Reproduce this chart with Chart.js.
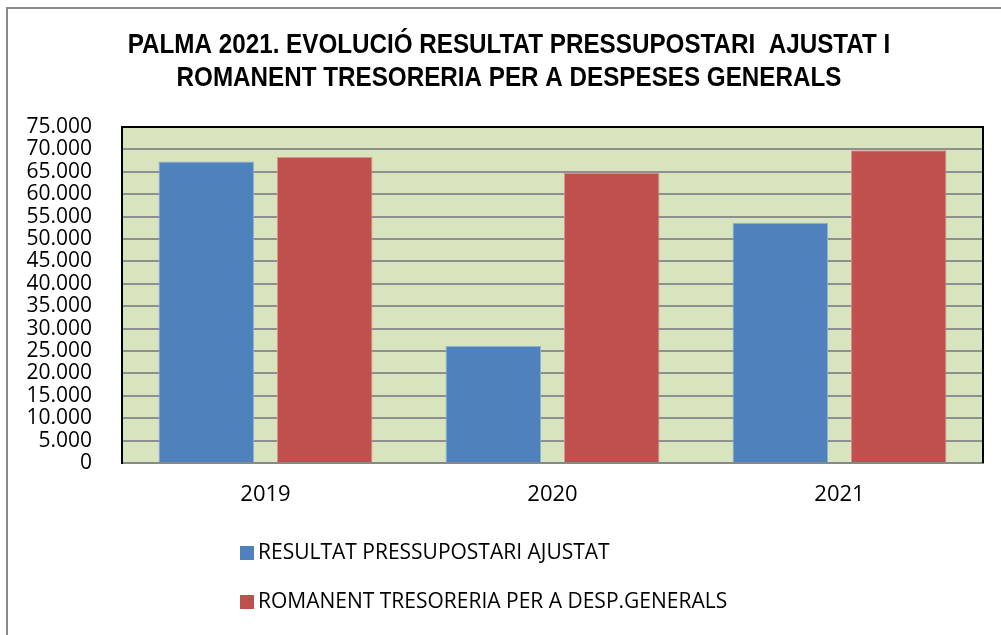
<!DOCTYPE html>
<html>
<head>
<meta charset="utf-8">
<script src="https://cdn.jsdelivr.net/npm/chart.js@4.4.1/dist/chart.umd.min.js"></script>
<style>
  html, body { margin: 0; padding: 0; background: #fff; }
  #wrap { width: 1001px; height: 635px; position: relative; }
</style>
</head>
<body>
<div id="wrap"><canvas id="chart"></canvas></div>
<script>
// data
const years = ['2019', '2020', '2021'];
const resultat = [67300, 26100, 53600];
const romanent = [68300, 64800, 69800];
const seriesNames = ['RESULTAT PRESSUPOSTARI AJUSTAT', 'ROMANENT TRESORERIA PER A DESP.GENERALS'];
const titleLines = ['PALMA 2021. EVOLUCIÓ RESULTAT PRESSUPOSTARI  AJUSTAT I', 'ROMANENT TRESORERIA PER A DESPESES GENERALS'];

const fmt = v => String(v).replace(/\B(?=(\d{3})+(?!\d))/g, '.');

// plot background, frame, narrow title and legend
const frame = {
    id: 'frame',
    beforeDraw(chart) {
        const ctx = chart.ctx, a = chart.chartArea;
        ctx.save();
        ctx.strokeStyle = '#8a8a8a';
        ctx.lineWidth = 2;
        ctx.strokeRect(7, 8, 1100, 800);
        ctx.fillStyle = '#D7E4BD';
        ctx.fillRect(a.left, a.top, a.right - a.left, a.bottom - a.top);
        ctx.restore();
    },
    afterDraw(chart) {
        const ctx = chart.ctx, a = chart.chartArea;
        ctx.save();
        ctx.strokeStyle = '#000';
        ctx.lineWidth = 2;
        ctx.beginPath();
        ctx.moveTo(a.left, a.top);
        ctx.lineTo(a.right, a.top);
        ctx.lineTo(a.right, a.bottom);
        ctx.stroke();

        // title, squeezed to look like a narrow face
        ctx.save();
        ctx.translate(509, 0);
        ctx.scale(0.865, 1);
        ctx.font = 'bold 28px "Liberation Sans", sans-serif';
        ctx.textAlign = 'center';
        ctx.textBaseline = 'middle';
        ctx.fillStyle = '#000';
        titleLines.forEach((t, i) => ctx.fillText(t, 0, 45 + i * 33.5));
        ctx.restore();

        // legend, one item per row
        ctx.font = '21px "Open Sans"';
        ctx.textBaseline = 'middle';
        chart.data.datasets.forEach((ds, i) => {
            const y = 553 + i * 49;
            ctx.fillStyle = ds.backgroundColor;
            ctx.fillRect(240, y - 7, 14, 14);
            ctx.fillStyle = '#000';
            ctx.fillText(ds.label, 258, y);
        });
        ctx.restore();
    }
};

new Chart(document.getElementById('chart'), {
    type: 'bar',
    data: {
        labels: years,
        datasets: [{
            label: seriesNames[0],
            data: resultat,
            backgroundColor: '#4F81BD',
            borderColor: '#8FB0D8',
            borderWidth: 1
        }, {
            label: seriesNames[1],
            data: romanent,
            backgroundColor: '#C0504D',
            borderColor: '#D99391',
            borderWidth: 1
        }]
    },
    options: {
        responsive: true,
        maintainAspectRatio: false,
        animation: false,
        categoryPercentage: 0.825,
        barPercentage: 0.807,
        layout: { padding: { left: 0, right: 18, top: 127, bottom: 0 } },
        plugins: {
            legend: { display: false },
            tooltip: { enabled: false },
            title: { display: false }
        },
        scales: {
            x: {
                grid: { display: false, drawTicks: false },
                border: { color: '#888', width: 2 },
                ticks: { color: '#000', font: { family: '"Open Sans"', size: 22 }, padding: 19 },
                afterFit(s) { s.height = 172; }
            },
            y: {
                min: 0,
                max: 75000,
                grid: { color: '#8f8f8f', lineWidth: 2, drawTicks: false },
                border: { color: '#000', width: 2 },
                ticks: {
                    stepSize: 5000,
                    autoSkip: false,
                    color: '#000',
                    font: { family: '"Open Sans"', size: 21, lineHeight: 1 },
                    padding: 30,
                    callback: v => fmt(v)
                },
                afterFit(s) { s.width = 122; }
            }
        }
    },
    plugins: [frame]
});
</script>
</body>
</html>
